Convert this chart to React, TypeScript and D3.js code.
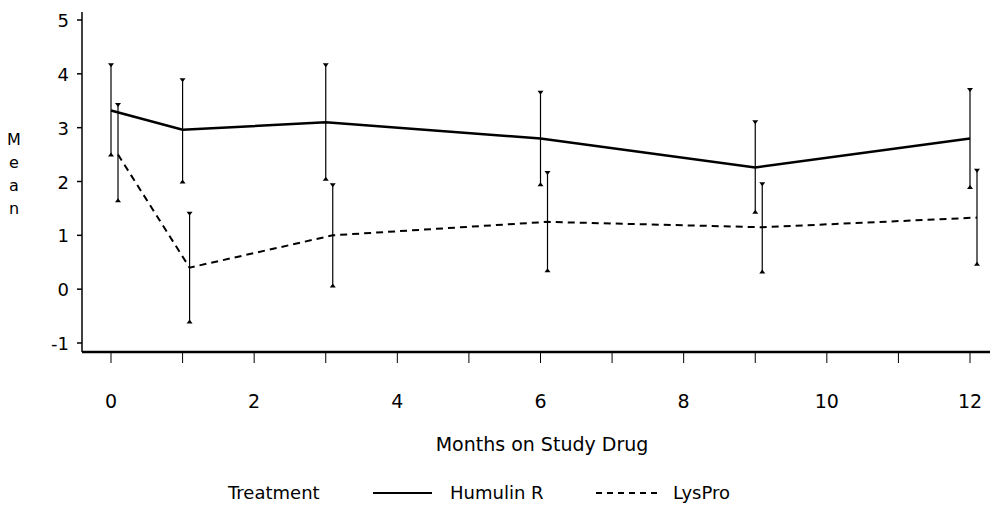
import React from "react";
import * as d3 from "d3";

const months = [0, 1, 3, 6, 9, 12];
const humulinMean = [3.32, 2.96, 3.1, 2.8, 2.26, 2.8];
const humulinUpper = [4.16, 3.88, 4.16, 3.65, 3.1, 3.7];
const humulinLower = [2.5, 2.0, 2.05, 1.95, 1.44, 1.9];
const lysproMean = [2.5, 0.4, 1.0, 1.25, 1.15, 1.33];
const lysproUpper = [3.42, 1.4, 1.93, 2.16, 1.95, 2.2];
const lysproLower = [1.65, -0.6, 0.07, 0.35, 0.33, 0.47];
const xTicks = [0, 1, 2, 3, 4, 5, 6, 7, 8, 9, 10, 11, 12];
const xTickLabels = [0, 2, 4, 6, 8, 10, 12];
const yTicks = [-1, 0, 1, 2, 3, 4, 5];
const yTitle = ["M", "e", "a", "n"];

const W = 995;
const H = 513;
const FONT = "'DejaVu Sans', sans-serif";

export default function App() {
  const x = d3.scaleLinear().domain([0, 12]).range([111, 970]);
  const y = d3.scaleLinear().domain([-1, 5]).range([343, 20]);
  const axisY = 352;
  const axisX = 82;

  const hum = months.map((m, i) => ({ m, v: humulinMean[i], hi: humulinUpper[i], lo: humulinLower[i] }));
  const lys = months.map((m, i) => ({ m, v: lysproMean[i], hi: lysproUpper[i], lo: lysproLower[i] }));

  const off = 7;
  const lineH = d3.line<any>().x((d) => x(d.m)).y((d) => y(d.v));
  const lineL = d3.line<any>().x((d) => x(d.m) + off).y((d) => y(d.v));

  const errBars = (data: any[], dx: number, key: string) =>
    data.map((d, i) => {
      const cx = x(d.m) + dx;
      return (
        <g key={key + i}>
          <line x1={cx} x2={cx} y1={y(d.hi)} y2={y(d.lo)} stroke="#000" strokeWidth={1.2} />
          <path d={`M${cx - 3},${y(d.hi) - 2}L${cx + 3},${y(d.hi) - 2}L${cx},${y(d.hi) + 2}Z`} fill="#000" />
          <path d={`M${cx - 3},${y(d.lo) + 2}L${cx + 3},${y(d.lo) + 2}L${cx},${y(d.lo) - 2}Z`} fill="#000" />
        </g>
      );
    });

  return (
    <svg width={W} height={H} style={{ position: "absolute", left: 0, top: 0, background: "#fff" }}>
      <rect x={0} y={0} width={W} height={H} fill="#fff" />
      {/* y axis */}
      <line x1={axisX} x2={axisX} y1={12} y2={axisY} stroke="#000" strokeWidth={1.5} />
      {yTicks.map((t) => (
        <g key={"yt" + t}>
          <line x1={axisX - 5} x2={axisX} y1={y(t)} y2={y(t)} stroke="#000" strokeWidth={1.5} />
          <text x={69} y={y(t) + 7} textAnchor="end" fontSize={18} fontFamily={FONT} fill="#000">
            {t}
          </text>
        </g>
      ))}
      {yTitle.map((c, i) => (
        <text key={c + i} x={14} y={145 + i * 23} textAnchor="middle" fontSize={16} fontFamily={FONT} fill="#000">
          {c}
        </text>
      ))}
      {/* x axis */}
      <line x1={axisX} x2={990} y1={axisY} y2={axisY} stroke="#000" strokeWidth={2.5} />
      {xTicks.map((t) => (
        <line key={"xt" + t} x1={x(t)} x2={x(t)} y1={axisY} y2={axisY + 11} stroke="#000" strokeWidth={1} />
      ))}
      {xTickLabels.map((t) => (
        <text key={"xl" + t} x={x(t)} y={408} textAnchor="middle" fontSize={19} fontFamily={FONT} fill="#000">
          {t}
        </text>
      ))}
      <text x={542} y={451} textAnchor="middle" fontSize={19} fontFamily={FONT} fill="#000">
        Months on Study Drug
      </text>
      {/* error bars */}
      {errBars(hum, 0, "h")}
      {errBars(lys, off, "l")}
      {/* lines */}
      <path d={lineH(hum) || ""} fill="none" stroke="#000" strokeWidth={2.5} />
      <path d={lineL(lys) || ""} fill="none" stroke="#000" strokeWidth={2} strokeDasharray="7,5" />
      {/* legend */}
      <text x={228} y={499} fontSize={18} fontFamily={FONT} fill="#000">Treatment</text>
      <line x1={373} x2={432} y1={493} y2={493} stroke="#000" strokeWidth={1.8} />
      <text x={450} y={499} fontSize={18} fontFamily={FONT} fill="#000">Humulin R</text>
      <line x1={596} x2={661} y1={493} y2={493} stroke="#000" strokeWidth={1.8} strokeDasharray="6,5" />
      <text x={673} y={499} fontSize={18} fontFamily={FONT} fill="#000">LysPro</text>
    </svg>
  );
}
